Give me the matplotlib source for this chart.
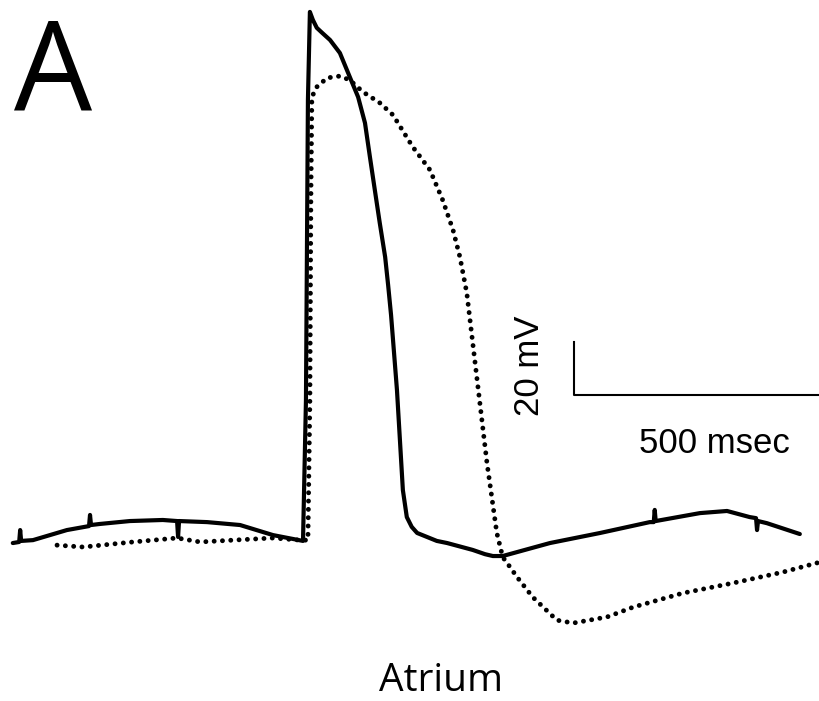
import numpy as np
import matplotlib
matplotlib.use('Agg')
import matplotlib.pyplot as plt

# solid trace (control), time in msec, membrane potential in mV
t_solid = [26, 39, 41, 43, 67, 136, 181, 183, 185, 203, 264, 331, 360, 362, 364,
           421, 488, 555, 616, 622, 626, 630, 636, 644, 655, 671, 691, 711, 728, 742,
           752, 762, 772, 783, 789, 795, 799, 807, 813, 819, 827, 837, 848, 888, 909,
           961, 986, 1002, 1022, 1067,
           1118, 1220, 1321, 1329, 1331, 1333, 1423, 1478, 1524, 1537, 1539, 1541, 1559, 1626]
v_solid = [-80.0, -79.6, -75.1, -79.2, -78.9, -75.1, -73.6, -69.4, -73.2, -72.8,
           -71.7, -71.3, -71.7, -77.7, -71.7, -72.1, -73.2, -77.0, -79.2, -26.0,
           87.2, 120.4, 117.4, 114.4, 112.5, 109.8, 104.9, 95.9, 88.3, 78.5,
           65.7, 53.2, 40.8, 27.9, 17.4, 6.0, -3.4, -22.3, -41.1, -60.0, -70.2, -73.9,
           -76.2, -79.2, -80.0,
           -82.6, -84.2, -84.9, -84.9, -82.6,
           -80.0, -76.2, -72.1, -72.1, -67.5, -71.7, -68.7, -67.9, -70.2, -70.6, -75.1,
           -71.7, -72.5, -76.6]

# dotted trace
t_dot = [116, 169, 270, 360, 407, 474, 555, 610, 626, 630, 632, 634, 644, 665, 691,
         711, 738, 772, 799, 839, 874, 900, 921, 935, 949, 970, 990, 1010, 1022, 1037,
         1051, 1083, 1132, 1165, 1234, 1287, 1388, 1490, 1591, 1667]
v_dot = [-80.8, -81.5, -79.6, -78.1, -79.6, -78.9, -78.1, -78.9, -78.9, -26.0,
         49.4, 88.3, 92.1, 95.5, 96.2, 94.7, 90.2, 86.1, 81.5, 69.5,
         60.8, 49.4, 38.1, 27.9, 14.3, -18.5, -49.8, -76.2, -85.3, -89.1,
         -92.8, -100.4, -109.1, -110.2, -107.9, -104.2, -98.9, -95.1, -91.0, -87.2]

scale_mv = 20
scale_ms = 500

fig = plt.figure(figsize=(8.2, 7.01), dpi=100)
ax = fig.add_axes([0, 0, 1, 1])
ax.set_xlim(0, 1667)
ax.set_ylim(-139.6, 124.9)
ax.axis('off')

ax.plot(t_dot, v_dot, color='black', lw=3.5, linestyle=(0, (0.01, 1.7)),
        dash_capstyle='round', solid_joinstyle='round')
ax.plot(t_solid, v_solid, color='black', lw=3.0, solid_joinstyle='round',
        solid_capstyle='round')

# scale bar
x0, y0 = 1167, -24.1
ax.plot([x0, x0, x0 + scale_ms], [y0 + scale_mv, y0, y0], color='black', lw=1.5)
ax.text(1077, -13.2, '%d mV' % scale_mv, rotation=90, ha='center', va='center',
        fontsize=25, family='Liberation Sans')
ax.text(1453, -42.3, '%d msec' % scale_ms, ha='center', va='center',
        fontsize=25, family='Liberation Sans')

ax.text(108, 95.9, 'A', ha='center', va='center', fontsize=89, family='Open Sans')
ax.text(896, -132.0, 'Atrium', ha='center', va='center', fontsize=28, family='Open Sans')

fig.savefig('out.png', dpi=100)
